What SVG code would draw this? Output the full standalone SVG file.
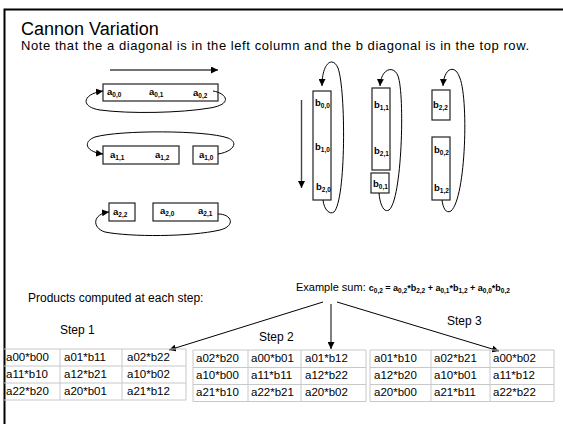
<svg xmlns="http://www.w3.org/2000/svg" width="563" height="424" viewBox="0 0 563 424">
<style>
  text { font-family: "Liberation Sans", Arial, sans-serif; fill: #000; }
  .title { font-size: 18px; }
  .note { font-size: 13px; }
  .lbl { font-size: 12px; }
  .cell { font-size: 11.5px; }
  .v { font-size: 9.5px; font-weight: bold; }
  .vs { font-size: 6.5px; }
  .f { font-size: 9px; font-weight: bold; }
  .fs { font-size: 6.5px; }
  .box { fill: #fff; stroke: #222; stroke-width: 1.2; }
  .loop { fill: none; stroke: #000; stroke-width: 1; marker-end: url(#ah); }
  .dir { fill: none; stroke: #444; stroke-width: 1.4; marker-end: url(#ah); }
  .ptr { fill: none; stroke: #000; stroke-width: 1; marker-end: url(#ah); }
  .grid { fill: none; stroke: #c8c8c8; stroke-width: 1; }
</style>
<defs>
  <marker id="ah" viewBox="0 0 10 10" refX="10" refY="5" markerWidth="7" markerHeight="7" markerUnits="userSpaceOnUse" orient="auto">
    <path d="M0,0 L10,5 L0,10 z" fill="#000"/>
  </marker>
</defs>

<rect width="563" height="424" fill="#fff"/>
<!-- slide frame -->
<path d="M4.5,424 V9.5 H563" fill="none" stroke="#000" stroke-width="2"/>

<text class="title" x="21" y="35">Cannon Variation</text>
<text class="note" x="21" y="50" textLength="508" lengthAdjust="spacing">Note that the a diagonal is in the left column and the b diagonal is in the top row.</text>

<!-- A rows -->
<g id="a-row0">
  <rect class="box" x="103" y="84" width="115" height="17"/>
  <text class="v" x="107" y="95">a<tspan class="vs" dy="1.5">0,0</tspan></text>
  <text class="v" x="149" y="95">a<tspan class="vs" dy="1.5">0,1</tspan></text>
  <text class="v" x="193" y="96">a<tspan class="vs" dy="1.5">0,2</tspan></text>
</g>
<g id="a-row1">
  <rect class="box" x="103" y="146" width="76" height="18"/>
  <rect class="box" x="193" y="146" width="25" height="18"/>
  <text class="v" x="110" y="158">a<tspan class="vs" dy="1.5">1,1</tspan></text>
  <text class="v" x="155" y="158">a<tspan class="vs" dy="1.5">1,2</tspan></text>
  <text class="v" x="199" y="158">a<tspan class="vs" dy="1.5">1,0</tspan></text>
</g>
<g id="a-row2">
  <rect class="box" x="109" y="203" width="26" height="18"/>
  <rect class="box" x="153" y="203" width="65" height="18"/>
  <text class="v" x="113" y="215">a<tspan class="vs" dy="1.5">2,2</tspan></text>
  <text class="v" x="160" y="214">a<tspan class="vs" dy="1.5">2,0</tspan></text>
  <text class="v" x="198" y="214">a<tspan class="vs" dy="1.5">2,1</tspan></text>
</g>

<!-- B columns -->
<g id="b-col0">
  <rect class="box" x="313" y="91" width="18" height="109"/>
  <text class="v" x="315" y="106">b<tspan class="vs" dy="1.5">0,0</tspan></text>
  <text class="v" x="315" y="150">b<tspan class="vs" dy="1.5">1,0</tspan></text>
  <text class="v" x="316" y="190">b<tspan class="vs" dy="1.5">2,0</tspan></text>
</g>
<g id="b-col1">
  <rect class="box" x="372" y="88" width="18" height="82"/>
  <rect class="box" x="371" y="173" width="18" height="20"/>
  <text class="v" x="374" y="108">b<tspan class="vs" dy="1.5">1,1</tspan></text>
  <text class="v" x="374" y="154">b<tspan class="vs" dy="1.5">2,1</tspan></text>
  <text class="v" x="373" y="187">b<tspan class="vs" dy="1.5">0,1</tspan></text>
</g>
<g id="b-col2">
  <rect class="box" x="432" y="90" width="18" height="30"/>
  <rect class="box" x="432" y="137" width="18" height="63"/>
  <text class="v" x="433" y="108">b<tspan class="vs" dy="1.5">2,2</tspan></text>
  <text class="v" x="434" y="153">b<tspan class="vs" dy="1.5">0,2</tspan></text>
  <text class="v" x="434" y="191">b<tspan class="vs" dy="1.5">1,2</tspan></text>
</g>

<g id="connectors">
  <!-- shift directions -->
  <path class="dir" d="M110,70 H218"/>
  <path class="dir" d="M301.5,100 V188"/>
  <!-- row rotations -->
  <path class="loop" d="M213,91 C226,93 234,104 210,108 C180,113 130,114 100,110 C80,107 82,94 103,91"/>
  <path class="loop" d="M218,154 C232,152 240,143 228,138 C205,130 120,130 95,137 C82,142 86,152 103,154"/>
  <path class="loop" d="M218,214 C232,214 236,226 220,230 C190,237 130,237 105,232 C92,228 92,214 109,212"/>
  <!-- column rotations -->
  <path class="loop" d="M323,200 C324,210 330,215 334,212 C346,200 346,90 338,68 C333,56 322,62 322,86"/>
  <path class="loop" d="M379,193 C380,205 384,213 389,210 C402,200 405,95 398,76 C394,65 381,68 380,86"/>
  <path class="loop" d="M442,200 C443,208 446,214 451,211 C466,198 469,95 459,76 C455,65 444,67 443,86"/>
  <!-- example sum pointers -->
  <path class="ptr" d="M323,302 L169,350"/>
  <path class="ptr" d="M331,304 V349"/>
  <path class="ptr" d="M337,302 L499,351"/>
</g>

<text x="296" y="291" style="font-size:11px">Example sum: <tspan class="f">c<tspan class="fs" dy="1.5">0,2</tspan><tspan dy="-1.5"> = a</tspan><tspan class="fs" dy="1.5">0,2</tspan><tspan dy="-1.5">*b</tspan><tspan class="fs" dy="1.5">2,2</tspan><tspan dy="-1.5"> + a</tspan><tspan class="fs" dy="1.5">0,1</tspan><tspan dy="-1.5">*b</tspan><tspan class="fs" dy="1.5">1,2</tspan><tspan dy="-1.5"> + a</tspan><tspan class="fs" dy="1.5">0,0</tspan><tspan dy="-1.5">*b</tspan><tspan class="fs" dy="1.5">0,2</tspan></tspan></text>
<text class="lbl" x="28" y="302">Products computed at each step:</text>
<text class="lbl" x="60" y="334">Step 1</text>
<text class="lbl" x="259" y="341">Step 2</text>
<text class="lbl" x="447" y="325">Step 3</text>

<!-- step tables -->
<g id="step1">
  <path class="grid" d="M4,349 H186 M4,366 H186 M4,383 H186 M4,400 H186 M60,349 V400 M122,349 V400 M186,349 V400"/>
  <text class="cell" x="6" y="361">a00*b00</text>
  <text class="cell" x="64" y="361">a01*b11</text>
  <text class="cell" x="127" y="361">a02*b22</text>
  <text class="cell" x="6" y="378">a11*b10</text>
  <text class="cell" x="64" y="378">a12*b21</text>
  <text class="cell" x="127" y="378">a10*b02</text>
  <text class="cell" x="6" y="395">a22*b20</text>
  <text class="cell" x="64" y="395">a20*b01</text>
  <text class="cell" x="127" y="395">a21*b12</text>
</g>
<g id="step2">
  <path class="grid" d="M193,350 H366 M193,367.5 H366 M193,384.5 H366 M193,401.5 H366 M193,350 V401.5 M248,350 V401.5 M301,350 V401.5 M366,350 V401.5"/>
  <text class="cell" x="196" y="362">a02*b20</text>
  <text class="cell" x="251" y="362">a00*b01</text>
  <text class="cell" x="305" y="362">a01*b12</text>
  <text class="cell" x="196" y="379">a10*b00</text>
  <text class="cell" x="251" y="379">a11*b11</text>
  <text class="cell" x="305" y="379">a12*b22</text>
  <text class="cell" x="196" y="396">a21*b10</text>
  <text class="cell" x="251" y="396">a22*b21</text>
  <text class="cell" x="305" y="396">a20*b02</text>
</g>
<g id="step3">
  <path class="grid" d="M370,350 H554 M370,367.5 H554 M370,384.5 H554 M370,401.5 H554 M370,350 V401.5 M431,350 V401.5 M490,350 V401.5 M554,350 V401.5"/>
  <text class="cell" x="374" y="362">a01*b10</text>
  <text class="cell" x="434" y="362">a02*b21</text>
  <text class="cell" x="493" y="362">a00*b02</text>
  <text class="cell" x="374" y="379">a12*b20</text>
  <text class="cell" x="434" y="379">a10*b01</text>
  <text class="cell" x="493" y="379">a11*b12</text>
  <text class="cell" x="374" y="396">a20*b00</text>
  <text class="cell" x="434" y="396">a21*b11</text>
  <text class="cell" x="493" y="396">a22*b22</text>
</g>
</svg>
